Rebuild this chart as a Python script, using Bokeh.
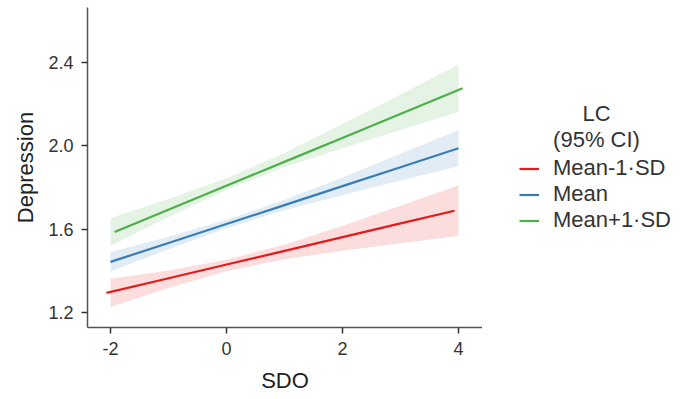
from bokeh.plotting import figure
from bokeh.models import Range1d, Legend, LegendItem, Label, FixedTicker
from bokeh.layouts import row
from bokeh.embed import file_html
from bokeh.resources import INLINE

# ---- data ----
sdo = [-2, -1, 0, 1, 2, 3, 4]
groups = ["Mean-1·SD", "Mean", "Mean+1·SD"]
colors = ["#E41A1C", "#377EB8", "#4DAF4A"]
dodge = [-0.07, 0.0, 0.07]

low_mean = [1.294, 1.360, 1.426, 1.491, 1.557, 1.623, 1.689]
low_lo = [1.226, 1.318, 1.398, 1.456, 1.497, 1.533, 1.567]
low_hi = [1.362, 1.402, 1.454, 1.526, 1.617, 1.713, 1.811]

mid_mean = [1.443, 1.534, 1.625, 1.716, 1.807, 1.898, 1.989]
mid_lo = [1.397, 1.504, 1.605, 1.691, 1.765, 1.834, 1.902]
mid_hi = [1.489, 1.564, 1.645, 1.741, 1.849, 1.962, 2.076]

high_mean = [1.587, 1.702, 1.817, 1.932, 2.047, 2.162, 2.277]
high_lo = [1.520, 1.659, 1.789, 1.898, 1.989, 2.077, 2.164]
high_hi = [1.654, 1.745, 1.845, 1.966, 2.105, 2.247, 2.390]

y_ticks = [1.2, 1.6, 2.0, 2.4]
x_ticks = [-2, 0, 2, 4]
legend_title = ["LC", "(95% CI)"]

series = [(low_mean, low_lo, low_hi), (mid_mean, mid_lo, mid_hi), (high_mean, high_lo, high_hi)]

FONT = "Liberation Sans"
TXT = "#333333"
H = 399
W2 = 688 - 482
TOP, BOTTOM = 7, 72

p = figure(width=482, height=H, output_backend="svg", toolbar_location=None,
           x_range=Range1d(-2.397, 4.414), y_range=Range1d(1.128, 2.665),
           min_border_left=87, min_border_right=0, min_border_top=TOP, min_border_bottom=BOTTOM)
p.outline_line_color = None
p.xgrid.visible = False
p.ygrid.visible = False

for (m, lo, hi), c, d in zip(series, colors, dodge):
    p.varea(x=sdo, y1=lo, y2=hi, fill_color=c, fill_alpha=0.15)
    p.line(x=[v + d for v in sdo], y=m, line_color=c, line_width=2.2)

for ax in (p.xaxis[0], p.yaxis[0]):
    ax.axis_line_color = "#555555"
    ax.axis_line_width = 1.5
    ax.major_tick_line_color = "#333333"
    ax.major_tick_line_width = 1.5
    ax.major_tick_out = 6
    ax.major_tick_in = 0
    ax.minor_tick_line_color = None
    ax.major_label_text_font = FONT
    ax.major_label_text_font_size = "18px"
    ax.major_label_text_color = TXT
    ax.axis_label_text_font = FONT
    ax.axis_label_text_font_size = "22px"
    ax.axis_label_text_font_style = "normal"
    ax.axis_label_text_color = "#222222"

p.xaxis[0].ticker = FixedTicker(ticks=x_ticks)
p.yaxis[0].ticker = FixedTicker(ticks=y_ticks)
p.xaxis[0].major_label_overrides = {t: str(t) for t in x_ticks}
p.yaxis[0].major_label_overrides = {t: f"{t:.1f}" for t in y_ticks}
p.xaxis[0].axis_label = "SDO"
p.yaxis[0].axis_label = "Depression"
p.xaxis[0].major_label_standoff = 8
p.yaxis[0].major_label_standoff = 8
p.xaxis[0].axis_label_standoff = 10
p.yaxis[0].axis_label_standoff = 7

# ---- legend panel (its frame is aligned with the main frame by the row) ----
q = figure(width=W2, height=H, output_backend="svg", toolbar_location=None,
           x_range=Range1d(0, W2), y_range=Range1d(BOTTOM, H - TOP),
           min_border_left=0, min_border_right=0, min_border_top=TOP, min_border_bottom=BOTTOM)
q.axis.visible = False
q.grid.visible = False
q.outline_line_color = None

items = []
for c, g in zip(colors, groups):
    # key renderers kept outside the visible range; only their legend glyph shows
    r = q.line(x=[-20, -10], y=[-20, -10], line_color=c, line_width=2.2)
    items.append(LegendItem(label=g, renderers=[r]))

legend = Legend(items=items, location=(37, 94), orientation="vertical",
                padding=0, margin=0, spacing=0, glyph_width=20, glyph_height=25,
                label_height=25, label_standoff=14,
                label_text_font=FONT, label_text_font_size="22px", label_text_color=TXT,
                background_fill_alpha=0, border_line_color=None)
q.add_layout(legend)

for txt, yv in zip(legend_title, [H - 113, H - 139]):
    q.add_layout(Label(x=114, y=yv, text=txt, text_align="center", text_baseline="middle",
                       text_font=FONT, text_font_size="22px", text_color=TXT))

layout = row(p, q)
open("out.html", "w").write(file_html(layout, INLINE))
